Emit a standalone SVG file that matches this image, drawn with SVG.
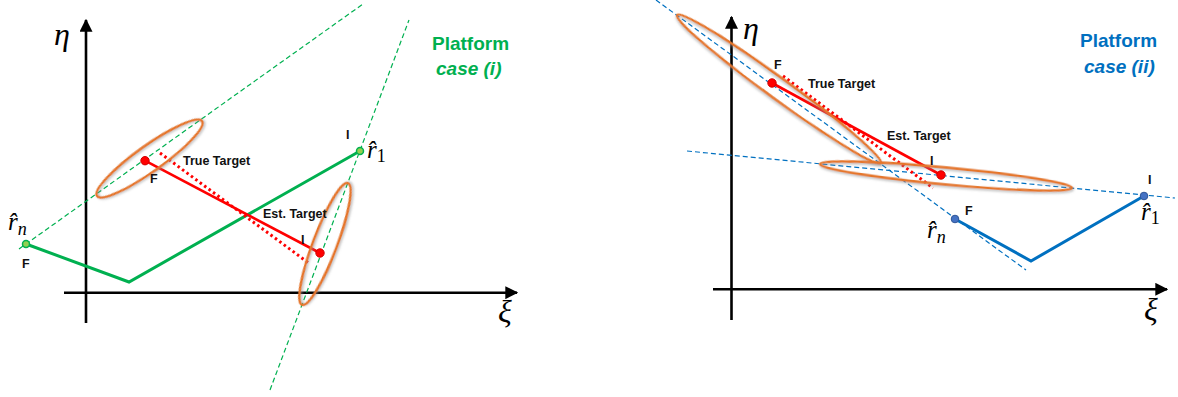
<svg xmlns="http://www.w3.org/2000/svg" width="1178" height="397" viewBox="0 0 1178 397">
<defs>
<style>
.axis{stroke:#000;stroke-width:2.6;fill:none}
.gpath{stroke:#00B050;stroke-width:3;fill:none;stroke-linejoin:miter}
.bpath{stroke:#0070C0;stroke-width:3;fill:none}
.gdash{stroke:#00B050;stroke-width:1.2;stroke-dasharray:5 3;fill:none}
.bdash{stroke:#0070C0;stroke-width:1.2;stroke-dasharray:5 3;fill:none}
.red{stroke:#FF0000;stroke-width:2.6;fill:none}
.reddot{stroke:#FF0000;stroke-width:3;stroke-dasharray:2.5 3;fill:none}
.ell{stroke:#E5762A;stroke-width:2.4;fill:none;filter:url(#sh)}
.lbl{font-family:"Liberation Sans",Arial,sans-serif;font-weight:bold;font-size:12.5px;fill:#111}
.math{font-family:"Liberation Serif","DejaVu Serif",serif;font-style:italic;fill:#000}
.sub{font-family:"Liberation Serif","DejaVu Serif",serif;fill:#000}
.title{font-family:"Liberation Sans",Arial,sans-serif;font-weight:bold;font-size:19px}
</style>
<marker id="ah" viewBox="0 0 10 10" refX="9" refY="5" markerWidth="5" markerHeight="5" markerUnits="strokeWidth" orient="auto">
<path d="M0,0 L10,5 L0,10 z" fill="#000"/>
</marker>
<filter id="sh" x="-20%" y="-50%" width="140%" height="200%">
<feDropShadow dx="1" dy="1.5" stdDeviation="1.2" flood-color="#888" flood-opacity="0.6"/>
</filter>
</defs>

<!-- LEFT PANEL: case (i) -->
<g id="left-axes">
<line class="axis" x1="86" y1="323" x2="86" y2="20" marker-end="url(#ah)"/>
<line class="axis" x1="64" y1="292.7" x2="517" y2="292.7" marker-end="url(#ah)"/>
<text class="math" x="54" y="45" font-size="32">η</text>
<text class="math" x="498" y="322" font-size="32">ξ</text>
</g>

<g id="left-connectors">
<line class="gdash" x1="19" y1="249" x2="363" y2="4"/>
<line class="gdash" x1="270" y1="390" x2="409" y2="20"/>
<polyline class="gpath" points="26,244 129,282 360,151"/>
<line class="reddot" x1="160" y1="153" x2="310" y2="264"/>
<line class="red" x1="145" y1="160.7" x2="320" y2="253"/>
</g>

<g id="left-ellipse-1">
<ellipse class="ell" cx="149.5" cy="158.5" rx="64.5" ry="13" transform="rotate(-35.5 149.5 158.5)"/>
</g>
<g id="left-ellipse-2">
<ellipse class="ell" cx="325" cy="244" rx="65" ry="12" transform="rotate(-69.3 325 244)"/>
</g>

<g id="left-platform-rn">
<circle cx="26" cy="244" r="3.5" fill="#92D050" stroke="#00B050" stroke-width="1.5"/>
<text class="lbl" x="22" y="268">F</text>
<text class="math" x="8" y="230" font-size="25">r̂<tspan class="math" font-size="18" dy="5">n</tspan></text>
</g>
<g id="left-platform-r1">
<circle cx="360" cy="151" r="3.5" fill="#92D050" stroke="#00B050" stroke-width="1.5"/>
<text class="lbl" x="346" y="139">I</text>
<text class="math" x="367" y="158" font-size="25">r̂<tspan class="sub" font-style="normal" font-size="18" dy="4">1</tspan></text>
</g>
<g id="left-true-target">
<circle cx="145" cy="160.7" r="4.2" fill="#FF0000" stroke="#D00000" stroke-width="1"/>
<text class="lbl" x="150" y="183">F</text>
<text class="lbl" x="183" y="165">True Target</text>
</g>
<g id="left-est-target">
<circle cx="320" cy="253" r="4.2" fill="#FF0000" stroke="#D00000" stroke-width="1"/>
<text class="lbl" x="263" y="218">Est. Target</text>
<text class="lbl" x="301" y="244">I</text>
</g>
<g id="left-title">
<text class="title" x="432" y="50" fill="#00B050">Platform</text>
<text class="title" x="436" y="75" fill="#00B050" font-style="italic">case (i)</text>
</g>

<!-- RIGHT PANEL: case (ii) -->
<g id="right-axes">
<line class="axis" x1="731.5" y1="320" x2="731.5" y2="17" marker-end="url(#ah)"/>
<line class="axis" x1="713" y1="289.3" x2="1167" y2="289.3" marker-end="url(#ah)"/>
<text class="math" x="743" y="39" font-size="32">η</text>
<text class="math" x="1144" y="320" font-size="32">ξ</text>
</g>

<g id="right-connectors">
<line class="bdash" x1="656" y1="0" x2="1026" y2="270"/>
<line class="bdash" x1="687" y1="151" x2="1175" y2="198"/>
<polyline class="bpath" points="955,219 1031,261 1144,196"/>
<line class="reddot" x1="783" y1="76" x2="933" y2="188"/>
<line class="red" x1="772" y1="83" x2="941" y2="175"/>
</g>

<g id="right-ellipse-1">
<ellipse class="ell" cx="779" cy="89" rx="126" ry="10.5" transform="rotate(36 779 89)"/>
</g>
<g id="right-ellipse-2">
<ellipse class="ell" cx="946" cy="176" rx="126.5" ry="8.5" transform="rotate(5.4 946 176)"/>
</g>

<g id="right-platform-rn">
<circle cx="955" cy="219" r="3.8" fill="#4472C4" stroke="#2F5597" stroke-width="1"/>
<text class="lbl" x="965" y="215">F</text>
<text class="math" x="927" y="238" font-size="25">r̂<tspan class="math" font-size="18" dy="5">n</tspan></text>
</g>
<g id="right-platform-r1">
<circle cx="1144" cy="196" r="3.8" fill="#4472C4" stroke="#2F5597" stroke-width="1"/>
<text class="lbl" x="1148" y="184">I</text>
<text class="math" x="1141" y="220" font-size="25">r̂<tspan class="sub" font-style="normal" font-size="18" dy="4">1</tspan></text>
</g>
<g id="right-true-target">
<circle cx="772" cy="83" r="4.2" fill="#FF0000" stroke="#D00000" stroke-width="1"/>
<text class="lbl" x="774" y="69">F</text>
<text class="lbl" x="808" y="88">True Target</text>
</g>
<g id="right-est-target">
<circle cx="941" cy="175" r="4.2" fill="#FF0000" stroke="#D00000" stroke-width="1"/>
<text class="lbl" x="887" y="140">Est. Target</text>
<text class="lbl" x="930" y="165">I</text>
</g>
<g id="right-title">
<text class="title" x="1080" y="47" fill="#0070C0">Platform</text>
<text class="title" x="1084" y="73" fill="#0070C0" font-style="italic">case (ii)</text>
</g>
</svg>
